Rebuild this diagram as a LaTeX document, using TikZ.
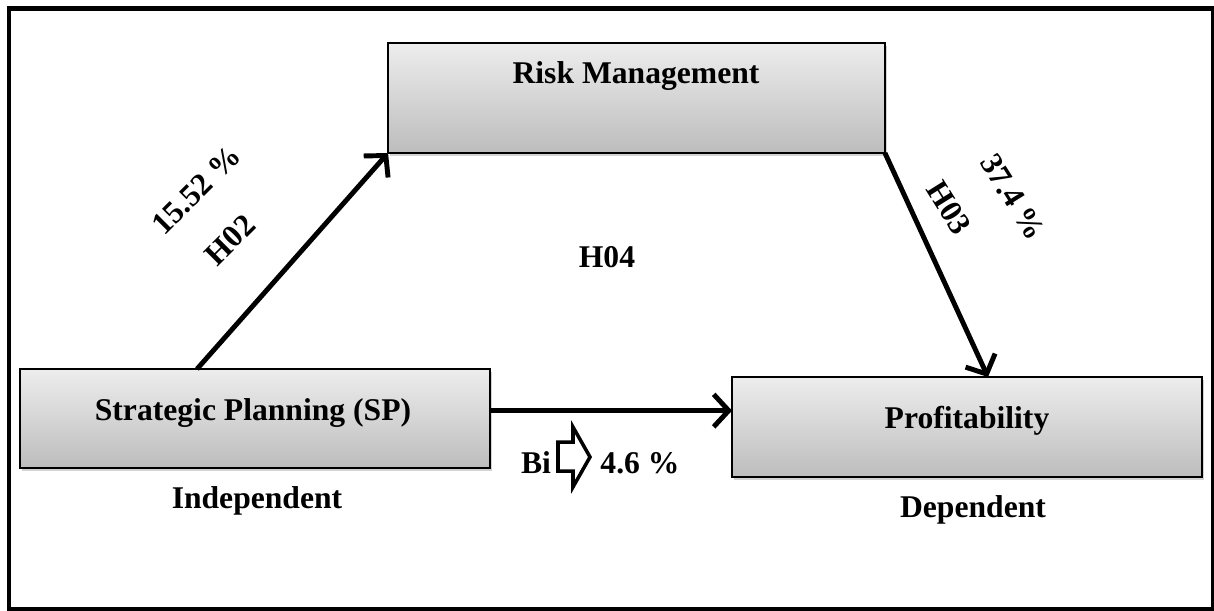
\documentclass[tikz,border=0pt]{standalone}
\usepackage{fontspec}
\setmainfont{Liberation Serif}
\usetikzlibrary{arrows.meta,shadows}
\begin{document}
\begin{tikzpicture}[x=0.02cm,y=-0.02cm,
  box/.style={rectangle,draw=black,line width=0.9pt,inner sep=0pt,outer sep=0pt,
    top color=gray!14,bottom color=gray!52,
    drop shadow={shadow xshift=1.2pt,shadow yshift=-1.6pt,opacity=.35}},
  lbl/.style={font=\fontsize{18}{21}\selectfont\bfseries,inner sep=0pt,anchor=base},
  arr/.style={line width=2.8pt,-{Straight Barb[length=3mm,width=6.5mm,line width=2.8pt]}}]

  \useasboundingbox (0,0) rectangle (1214,610);
  \draw[line width=2.8pt] (9,8.5) rectangle (1213,609);

  \node[box,minimum width=9.94cm,minimum height=2.2cm] (rm) at (636.5,98) {};
  \node[box,minimum width=9.4cm,minimum height=1.98cm] (sp) at (255,418.5) {};
  \node[box,minimum width=9.4cm,minimum height=2cm] (prof) at (967,427) {};

  \node[lbl] (rmt) at (636,83) {Risk Management};
  \node[lbl] (spt) at (253,420) {Strategic Planning (SP)};
  \node[lbl] (proft) at (967,428) {Profitability};
  \node[lbl] (ind) at (257,508) {Independent};
  \node[lbl] (dep) at (973,517) {Dependent};
  \node[lbl] (h04) at (607,267) {H04};
  \node[lbl] (bi) at (536,473) {Bi};
  \node[lbl] (p46) at (640,473) {4.6 \%};
  \node[lbl,anchor=center,rotate=45] (p1552) at (196,190) {15.52 \%};
  \node[lbl,anchor=center,rotate=45] (h02) at (230,240) {H02};
  \node[lbl,anchor=center,rotate=-58] (p374) at (1013,197) {37.4 \%};
  \node[lbl,anchor=center,rotate=-58] (h03) at (949,208) {H03};

  \draw[arr] ([xshift=3.54cm]sp.north west) -- (rm.south west);
  \draw[arr] (rm.south east) -- ([xshift=5.12cm]prof.north west);
  \draw[arr] ([yshift=4.5pt]sp.east) -- ([yshift=4.5pt]sp.east -| prof.west);

  % hollow arrow between Bi and 4.6 %
  \draw[line width=2pt,line join=miter] (558,442) -- (573,442) -- (573,427) -- (590,457)
    -- (573,487) -- (573,471) -- (558,471) -- cycle;
\end{tikzpicture}
\end{document}
